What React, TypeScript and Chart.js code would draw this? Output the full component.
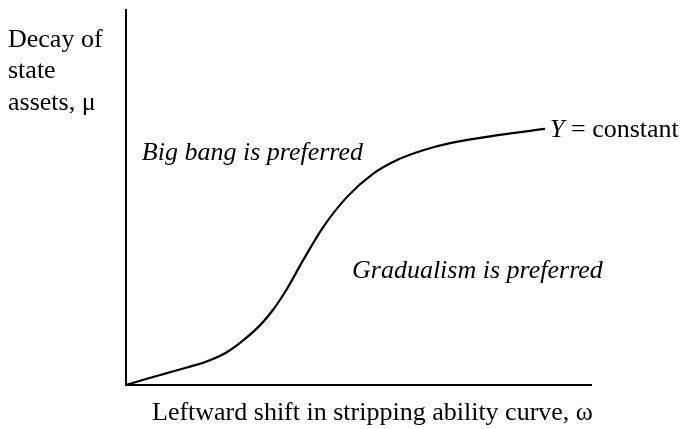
import React, { useEffect, useRef } from "react";
import { Chart, registerables } from "chart.js";

Chart.register(...registerables);

// Curve: Y = constant (x: leftward shift ω, y: decay μ)
const curveX = [0, 4.3, 8.6, 12.9, 17.2, 21.5, 25.2, 28.8, 31.6, 34.6, 38.1, 42.4, 47.5, 53.1, 58.3, 63.9, 69.7, 80.4, 90.1];
const curveY = [0, 1.6, 3.1, 4.6, 6.2, 8.6, 11.9, 15.9, 20.0, 25.6, 33.3, 42.1, 50.1, 56.3, 60.0, 62.6, 64.5, 66.7, 68.3];

const yTitleLines = ["Decay of", "state", "assets, μ"];
const xTitle = "Leftward shift in stripping ability curve, ω";
const regionLabels = ["Big bang is preferred", "Gradualism is preferred"];
const regionLabelX = [3.4, 48.6];
const regionLabelY = [60, 28.5];
const curveLabelItalic = "Y";
const curveLabelRest = " = constant";
const curveLabelPos = [91.2, 66.1];

const FONT = '"Liberation Serif", "Times New Roman", serif';
const SIZE = 26;

export default function App() {
  const ref = useRef<HTMLCanvasElement | null>(null);
  useEffect(() => {
    if (!ref.current) return;
    const textPlugin = {
      id: "texts",
      afterDraw(chart: any) {
        const ctx = chart.ctx;
        const xs = chart.scales.x;
        const ys = chart.scales.y;
        ctx.save();
        ctx.fillStyle = "#000";
        ctx.textBaseline = "alphabetic";
        ctx.textAlign = "left";
        ctx.font = `${SIZE}px ${FONT}`;
        const baseY = [47, 78, 110];
        yTitleLines.forEach((t, i) => ctx.fillText(t, 8, baseY[i]));
        ctx.fillText(xTitle, 152, 420);
        ctx.font = `italic ${SIZE}px ${FONT}`;
        regionLabels.forEach((t, i) => {
          ctx.fillText(t, xs.getPixelForValue(regionLabelX[i]), ys.getPixelForValue(regionLabelY[i]));
        });
        const lx = xs.getPixelForValue(curveLabelPos[0]);
        const ly = ys.getPixelForValue(curveLabelPos[1]);
        ctx.fillText(curveLabelItalic, lx, ly);
        const w = ctx.measureText(curveLabelItalic).width;
        ctx.font = `${SIZE}px ${FONT}`;
        ctx.fillText(curveLabelRest, lx + w, ly);
        ctx.restore();
      },
    };
    const chart = new Chart(ref.current, {
      type: "line",
      data: {
        datasets: [
          {
            data: curveX.map((x, i) => ({ x, y: curveY[i] })),
            borderColor: "#000",
            borderWidth: 2.2,
            pointRadius: 0,
            cubicInterpolationMode: "monotone",
            fill: false,
          },
        ],
      },
      options: {
        animation: false,
        responsive: false,
        maintainAspectRatio: false,
        layout: { padding: { left: 126, right: 95, top: 10, bottom: 44 } },
        plugins: { legend: { display: false }, tooltip: { enabled: false } },
        scales: {
          x: {
            type: "linear",
            min: 0,
            max: 100,
            ticks: { display: false },
            grid: { display: false, drawTicks: false },
            border: { display: true, color: "#000", width: 2 },
          },
          y: {
            type: "linear",
            min: 0,
            max: 100,
            ticks: { display: false },
            grid: { display: false, drawTicks: false },
            border: { display: true, color: "#000", width: 2 },
          },
        },
      },
      plugins: [textPlugin],
    } as any);
    return () => chart.destroy();
  }, []);
  return (
    <div style={{ position: "fixed", left: 0, top: 0, width: 686, height: 429, background: "#fff" }}>
      <canvas ref={ref} width={686} height={429} style={{ width: 686, height: 429, display: "block" }} />
    </div>
  );
}
